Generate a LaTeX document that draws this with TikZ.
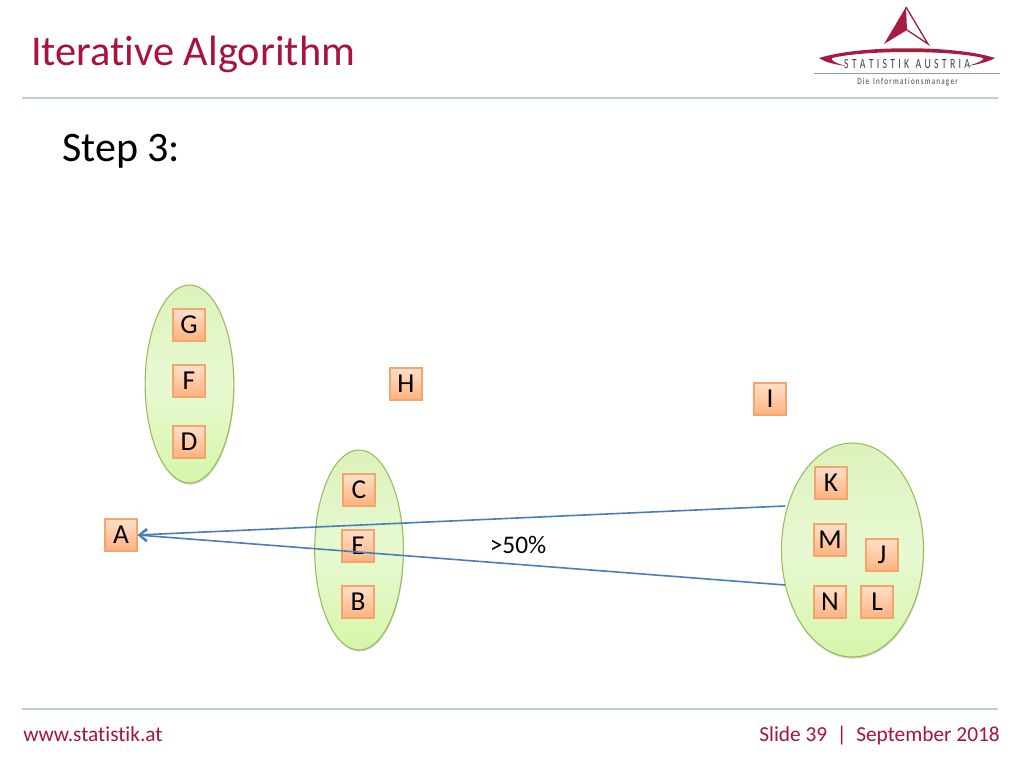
\documentclass[tikz,border=0pt]{standalone}
\usepackage{fontspec}
\setmainfont[Ligatures=NoCommon]{Carlito}
\usetikzlibrary{shadows,arrows.meta,shapes.geometric}
\definecolor{titlered}{HTML}{A8123E}
\definecolor{logored}{HTML}{A51C3F}
\definecolor{rulecol}{HTML}{BCCFE2}
\definecolor{arrowcol}{HTML}{4A7EBB}
\definecolor{boxedge}{HTML}{F4A46C}
\definecolor{ovaledge}{HTML}{9BBB59}
\definecolor{boxbot}{HTML}{FFB27E}
\definecolor{boxtop}{HTML}{FFE0CA}
\definecolor{ovtop}{HTML}{DCF2BC}
\definecolor{ovmid}{HTML}{E8F9D2}
\definecolor{ovbot}{HTML}{D6F6AA}
\tikzset{
  lbox/.style={draw=boxedge,line width=1pt,minimum width=24pt,minimum height=24pt,inner sep=0pt,
    top color=boxtop,bottom color=boxbot,
    drop shadow={shadow xshift=0.6pt,shadow yshift=-0.9pt,fill=black,opacity=0.25},
    font=\fontsize{20.5}{20.5}\selectfont,text=black},
  oval/.style={draw=ovaledge,line width=0.8pt,ellipse,inner sep=0pt,
    top color=ovtop,bottom color=ovbot,middle color=ovmid,
    drop shadow={shadow xshift=0.4pt,shadow yshift=-1.2pt,fill=black,opacity=0.18}},
  rulel/.style={draw=rulecol,line width=1.5pt},
  conn/.style={draw=arrowcol,line width=1.2pt},
  head/.style={-{Straight Barb[length=6pt,width=9pt,line width=1.2pt]}},
}
\begin{document}
\begin{tikzpicture}[x=0.75pt,y=-0.75pt]
\useasboundingbox (0,0) rectangle (1024,768);
\fill[white] (0,0) rectangle (1024,768);
% title and rules
\node[anchor=west,inner sep=0pt,text=titlered,font=\fontsize{31.8}{31.8}\selectfont] (title) at (31,54) {Iterative Algorithm};
\coordinate (r1a) at (22,98); \coordinate (r1b) at (998,98);
\coordinate (r2a) at (22,708.5); \coordinate (r2b) at (998,708.5);
\draw[rulel] (r1a) -- (r1b);
\draw[rulel] (r2a) -- (r2b);
\node[anchor=west,inner sep=0pt,font=\fontsize{31.5}{31.5}\selectfont,text=black] (step) at (62,151) {Step 3:};
\node[anchor=base west,inner sep=0pt,font=\fontsize{16}{16}\selectfont,text=titlered] (www) at (23,741) {www.statistik.at};
\node[anchor=base east,inner sep=0pt,font=\fontsize{16}{16}\selectfont,text=titlered] (slide) at (1000,741) {Slide 39\ \ |\ \ September 2018};
% logo
\fill[logored] (906,7) -- (884,44) -- (907,30) -- cycle;
\draw[logored,line width=1pt,line join=miter] (906,7) -- (928,44) -- (907,30);
\fill[logored] (819,58) .. controls (860,45) and (955,45) .. (995,58)
  .. controls (990,61) and (980,64) .. (968,66)
  .. controls (980,62) and (985,60) .. (983,58)
  .. controls (950,50) and (865,50) .. (832,58)
  .. controls (830,60) and (835,63) .. (846,66)
  .. controls (832,64) and (825,62) .. (819,58) -- cycle;
\node[inner sep=0pt,font=\fontsize{10.5}{10.5}\selectfont,text=black!75,xscale=0.70] (logoa) at (907,64) {S\,\,T\,\,A\,\,T\,\,I\,\,S\,\,T\,\,I\,\,K\,\,\,\,A\,\,U\,\,S\,\,T\,\,R\,\,I\,\,A};
\coordinate (la) at (814,73.5); \coordinate (lb) at (1000,73.5);
\draw[black!40,line width=0.6pt] (la) -- (lb);
\node[inner sep=0pt,font=\fontsize{7}{7}\selectfont,text=black!75,xscale=0.765] (logob) at (907.5,82.5) {D\,i\,e\,\, I\,n\,f\,o\,r\,m\,a\,t\,i\,o\,n\,s\,m\,a\,n\,a\,g\,e\,r};
% ovals
\node[oval,minimum width=66.5pt,minimum height=148.5pt] (ov1) at (189.5,384) {};
\node[oval,minimum width=66.5pt,minimum height=150pt] (ov2) at (359,550) {};
\node[oval,minimum width=106.5pt,minimum height=160.5pt] (ov3) at (852.5,550) {};
% boxes
\foreach \nm/\px/\py in {G/189/325,F/189/381,D/189/442,H/406/384,I/770/399,C/359/490,E/358/546,B/358/602,A/121/535,K/831/483,M/830/540,J/882/555,N/830/602,L/877/602}
  \node[lbox] (\nm) at (\px,\py) {\nm};
% connectors
\coordinate (s1) at (785,506);
\coordinate (s2) at (785,585);
\draw[conn,head] (s1) -- (A.east);
\draw[conn,head] (s2) -- (A.east);
\node[inner sep=0pt,font=\fontsize{19}{19}\selectfont,text=black] (pct) at (518,545) {>50\%};
\end{tikzpicture}
\end{document}
